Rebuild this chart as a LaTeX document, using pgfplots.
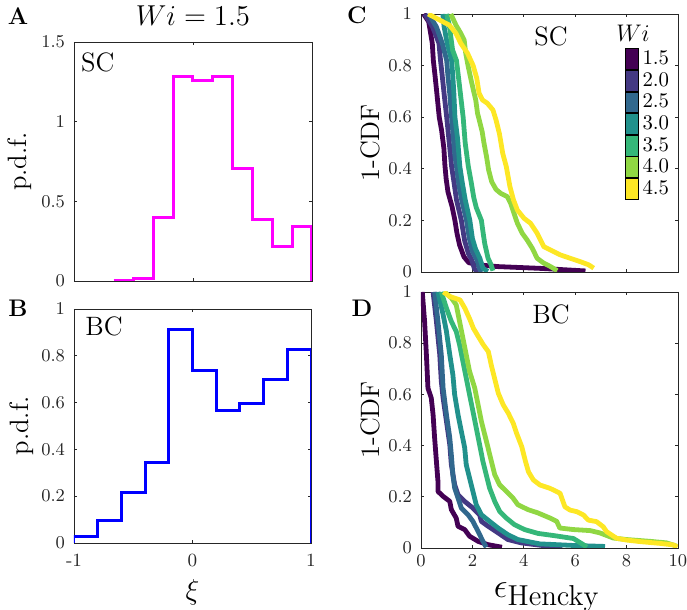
\documentclass[border=0pt]{standalone}
\usepackage{pgfplots}
\pgfplotsset{compat=1.18}
\definecolor{v1}{HTML}{440154}
\definecolor{v2}{HTML}{443983}
\definecolor{v3}{HTML}{31688E}
\definecolor{v4}{HTML}{21918C}
\definecolor{v5}{HTML}{35B779}
\definecolor{v6}{HTML}{90D743}
\definecolor{v7}{HTML}{FDE725}
\definecolor{mag}{RGB}{255,0,255}
\definecolor{blu}{RGB}{0,0,255}
\definecolor{axgray}{HTML}{262626}
\pgfplotsset{
  myax/.style={
    scale only axis, anchor=south west,
    axis line style={axgray, line width=0.4pt},
    tick style={axgray, line width=0.4pt},
    major tick length=1.5pt, tick align=inside,
    tick label style={font=\fontsize{9.3}{11}\selectfont, text=axgray},
    label style={font=\fontsize{13.3}{16}\selectfont},
    yticklabel shift=1pt,
  },
  cdf/.style={line width=2.4pt, line join=round, forget plot},
}
\begin{document}
\begin{tikzpicture}
\useasboundingbox (0,0) rectangle (343.5pt,305pt);

% ---------------- A
\begin{axis}[myax, at={(37pt,164.5pt)}, width=119pt, height=119.5pt,
  xmin=-1, xmax=1, ymin=0, ymax=1.5,
  xtick={-1,0,1}, xticklabels={},
  ytick={0,0.5,1,1.5},
  ylabel={p.d.f.}, ylabel style={at={(axis description cs:-0.227,0.5)}, anchor=center},
  every axis title shift=0pt,
  title={$Wi = 1.5$}, title style={at={(axis description cs:0.5,1.109)}, anchor=center, font=\fontsize{13.3}{16}\selectfont}]
\addplot[const plot, color=mag, line width=1.5pt, line join=miter] coordinates {
(-0.6667,0.004) (-0.5,0.017) (-0.3333,0.396) (-0.1667,1.285) (0,1.258) (0.1667,1.283)
(0.3333,0.704) (0.5,0.385) (0.6667,0.219) (0.8333,0.344) (1,0)};
\node[font=\fontsize{13.3}{16}\selectfont] at (axis description cs:0.10,0.914) {SC};
\end{axis}

% ---------------- B
\begin{axis}[myax, at={(37pt,33.5pt)}, width=118.5pt, height=117pt,
  xmin=-1, xmax=1, ymin=0, ymax=1,
  xtick={-1,0,1}, xticklabels={-1,0,1}, xticklabel shift=2pt,
  ytick={0,0.2,0.4,0.6,0.8,1},
  ylabel={p.d.f.}, ylabel style={at={(axis description cs:-0.22,0.5)}, anchor=center},
  xlabel={$\xi$}, xlabel style={at={(axis description cs:0.5,-0.209)}, anchor=center}]
\addplot[const plot, color=blu, line width=1.5pt, line join=miter] coordinates {
(-1,0) (-1,0.028) (-0.8,0.097) (-0.6,0.214) (-0.4,0.346) (-0.2,0.912) (0,0.736)
(0.2,0.567) (0.4,0.595) (0.6,0.698) (0.8,0.825) (1,0)};
\node[font=\fontsize{13.3}{16}\selectfont] at (axis description cs:0.127,0.924) {BC};
\end{axis}

% ---------------- C
\begin{axis}[myax, at={(210.5pt,169pt)}, width=128.5pt, height=129pt,
  xmin=0, xmax=10, ymin=0, ymax=1,
  xtick={0,2,4,6,8,10}, xticklabels={},
  ytick={0,0.2,0.4,0.6,0.8,1},
  ylabel={1-CDF}, ylabel style={at={(axis description cs:-0.195,0.5)}, anchor=center},
  legend image code/.code={\fill[#1] (0pt,-5.2pt) rectangle (6.6pt,5.2pt);},
  legend cell align=left,
  legend style={at={(rel axis cs:0.792,0.868)}, anchor=north west, draw=none, fill=none,
    inner sep=0pt, row sep=0pt, column sep=0pt,
    font=\fontsize{10.4}{12}\selectfont, nodes={inner ysep=0pt, inner xsep=1.8pt}}]
\addplot[cdf, color=v1] coordinates {(0.1,1.0) (0.3,0.97) (0.44,0.886) (0.48,0.82) (0.55,0.757) (0.62,0.69) (0.71,0.60) (0.80,0.55) (0.89,0.48) (0.93,0.415) (0.98,0.36) (1.05,0.31) (1.21,0.253) (1.32,0.2) (1.40,0.15) (1.50,0.105) (1.67,0.059) (1.86,0.036) (2.3,0.027) (2.97,0.021) (4.65,0.014) (6.4,0.004)};
\addplot[cdf, color=v2] coordinates {(0.15,1.0) (0.45,0.95) (0.70,0.886) (0.76,0.82) (0.83,0.757) (0.9,0.69) (1.0,0.60) (1.07,0.53) (1.19,0.41) (1.28,0.35) (1.38,0.28) (1.57,0.2) (1.7,0.12) (1.85,0.07) (1.96,0.05) (2.09,0.01) (2.25,0.002)};
\addplot[cdf, color=v3] coordinates {(0.3,1.0) (0.6,0.95) (0.83,0.886) (1.0,0.82) (1.05,0.757) (1.12,0.69) (1.19,0.60) (1.25,0.53) (1.32,0.45) (1.38,0.41) (1.47,0.34) (1.58,0.28) (1.77,0.2) (1.88,0.13) (2.0,0.08) (2.16,0.05) (2.29,0.01) (2.4,0.002)};
\addplot[cdf, color=v4] coordinates {(0.85,1.0) (0.9,0.95) (1.02,0.886) (1.19,0.82) (1.24,0.757) (1.28,0.69) (1.32,0.60) (1.42,0.52) (1.51,0.41) (1.6,0.35) (1.72,0.28) (1.90,0.2) (2.0,0.13) (2.12,0.09) (2.29,0.053) (2.41,0.015) (2.6,0.002)};
\addplot[cdf, color=v5] coordinates {(1.0,1.0) (1.10,0.957) (1.16,0.912) (1.23,0.86) (1.38,0.82) (1.44,0.77) (1.50,0.72) (1.57,0.66) (1.64,0.60) (1.72,0.50) (1.84,0.41) (1.95,0.35) (2.05,0.29) (2.15,0.25) (2.35,0.2) (2.42,0.15) (2.48,0.11) (2.61,0.053) (2.72,0.03) (2.8,0.005)};
\addplot[cdf, color=v6] coordinates {(1.16,1.0) (1.36,0.957) (1.55,0.925) (1.68,0.899) (1.74,0.848) (1.83,0.80) (1.95,0.744) (2.05,0.70) (2.13,0.667) (2.20,0.615) (2.30,0.576) (2.38,0.544) (2.45,0.50) (2.55,0.447) (2.63,0.396) (2.75,0.35) (2.92,0.32) (3.10,0.305) (3.36,0.292) (3.49,0.266) (3.62,0.227) (3.75,0.189) (3.94,0.150) (4.13,0.124) (4.33,0.092) (4.52,0.053) (4.78,0.034) (5.04,0.021) (5.30,0.005)};
\addplot[cdf, color=v7] coordinates {(0.28,1.0) (1.10,0.957) (1.36,0.925) (1.55,0.886) (1.81,0.848) (2.03,0.80) (2.17,0.751) (2.26,0.693) (2.39,0.667) (2.58,0.654) (2.80,0.628) (2.92,0.589) (3.05,0.537) (3.18,0.460) (3.32,0.408) (3.46,0.331) (3.60,0.279) (3.75,0.240) (4.01,0.208) (4.26,0.189) (4.52,0.150) (4.78,0.098) (5.04,0.085) (5.43,0.066) (5.81,0.053) (6.20,0.040) (6.52,0.028) (6.72,0.015)};
\addlegendimage{fill=v1}\addlegendentry{1.5}
\addlegendimage{fill=v2}\addlegendentry{2.0}
\addlegendimage{fill=v3}\addlegendentry{2.5}
\addlegendimage{fill=v4}\addlegendentry{3.0}
\addlegendimage{fill=v5}\addlegendentry{3.5}
\addlegendimage{fill=v6}\addlegendentry{4.0}
\addlegendimage{fill=v7}\addlegendentry{4.5}
\node[font=\fontsize{13.3}{16}\selectfont] at (axis description cs:0.506,0.915) {SC};
\node[font=\fontsize{13}{16}\selectfont] at (axis description cs:0.825,0.926) {$Wi$};
\end{axis}

% ---------------- D
\begin{axis}[myax, at={(210.5pt,31pt)}, width=128.5pt, height=128pt,
  xmin=0, xmax=10, ymin=0, ymax=1,
  xtick={0,2,4,6,8,10},
  ytick={0,0.2,0.4,0.6,0.8,1},
  ylabel={1-CDF}, ylabel style={at={(axis description cs:-0.195,0.5)}, anchor=center},
  xlabel={$\epsilon_{\mathrm{Hencky}}$}, xlabel style={at={(axis description cs:0.49,-0.19)}, anchor=center, font=\fontsize{19}{22}\selectfont}]
\addplot[cdf, color=v1] coordinates {(0.05,1.0) (0.14,0.885) (0.21,0.755) (0.27,0.625) (0.40,0.586) (0.47,0.521) (0.53,0.430) (0.60,0.338) (0.66,0.260) (0.66,0.221) (0.86,0.202) (1.12,0.182) (1.18,0.150) (1.37,0.117) (1.44,0.085) (1.70,0.072) (1.89,0.046) (2.22,0.026) (2.61,0.013) (3.15,0.003)};
\addplot[cdf, color=v2] coordinates {(0.47,1.0) (0.60,0.885) (0.73,0.755) (0.79,0.651) (0.86,0.586) (0.99,0.495) (1.12,0.404) (1.18,0.326) (1.31,0.247) (1.44,0.208) (1.70,0.182) (2.02,0.156) (2.28,0.130) (2.35,0.104) (2.61,0.085) (3.00,0.059) (3.38,0.033) (3.90,0.020) (4.94,0.007) (5.5,0.002)};
\addplot[cdf, color=v3] coordinates {(0.53,1.0) (0.66,0.885) (0.79,0.755) (0.86,0.625) (0.99,0.521) (1.12,0.430) (1.18,0.365) (1.24,0.286) (1.31,0.234) (1.44,0.195) (1.57,0.156) (1.83,0.130) (2.02,0.104) (2.22,0.065) (2.41,0.026) (2.54,0.003)};
\addplot[cdf, color=v4] coordinates {(0.66,1.0) (0.86,0.912) (0.99,0.846) (1.12,0.755) (1.24,0.677) (1.31,0.599) (1.44,0.521) (1.57,0.456) (1.70,0.391) (1.76,0.326) (1.89,0.273) (2.02,0.221) (2.15,0.169) (2.35,0.130) (2.67,0.104) (3.00,0.078) (3.38,0.052) (3.77,0.033) (4.42,0.020) (4.63,0.016) (5.9,0.010) (7.16,0.006)};
\addplot[cdf, color=v5] coordinates {(0.79,1.0) (0.99,0.937) (1.18,0.885) (1.37,0.846) (1.50,0.794) (1.63,0.729) (1.76,0.664) (1.89,0.599) (2.02,0.534) (2.15,0.469) (2.28,0.404) (2.41,0.338) (2.54,0.286) (2.67,0.234) (2.87,0.182) (3.06,0.143) (3.32,0.117) (3.64,0.091) (4.03,0.072) (4.55,0.057) (5.2,0.048) (5.93,0.037) (6.32,0.013) (6.45,0.003)};
\addplot[cdf, color=v6] coordinates {(0.92,1.0) (1.18,0.977) (1.37,0.950) (1.50,0.885) (1.63,0.820) (1.76,0.755) (1.89,0.690) (2.09,0.625) (2.22,0.560) (2.35,0.495) (2.48,0.443) (2.61,0.391) (2.74,0.338) (2.87,0.286) (3.06,0.247) (3.32,0.221) (3.58,0.195) (3.77,0.169) (4.16,0.150) (4.55,0.137) (5.02,0.117) (5.28,0.104) (5.40,0.078) (5.93,0.072) (6.58,0.068) (6.96,0.059) (7.48,0.039) (8.00,0.033) (8.91,0.026) (9.56,0.020) (9.95,0.007)};
\addplot[cdf, color=v7] coordinates {(0.87,1.0) (1.13,0.982) (1.52,0.969) (1.71,0.936) (1.91,0.891) (2.04,0.858) (2.23,0.826) (2.43,0.793) (2.62,0.767) (2.75,0.708) (2.88,0.656) (3.01,0.604) (3.20,0.559) (3.40,0.526) (3.59,0.487) (3.72,0.448) (3.92,0.396) (4.05,0.344) (4.18,0.298) (4.37,0.266) (4.63,0.246) (5.02,0.233) (5.41,0.214) (5.60,0.161) (5.80,0.148) (6.06,0.142) (6.32,0.129) (6.51,0.109) (6.83,0.103) (7.09,0.083) (7.22,0.064) (7.61,0.038) (8.00,0.031) (8.52,0.025) (9.30,0.018) (9.82,0.012) (9.98,0.004)};
\node[font=\fontsize{13.3}{16}\selectfont] at (axis description cs:0.506,0.914) {BC};
\end{axis}

% panel letters
\node[font=\bfseries\fontsize{12}{14}\selectfont] at (9pt,297pt) {A};
\node[font=\bfseries\fontsize{12}{14}\selectfont] at (9pt,151pt) {B};
\node[font=\bfseries\fontsize{12}{14}\selectfont] at (178.5pt,297.5pt) {C};
\node[font=\bfseries\fontsize{12}{14}\selectfont] at (181pt,151pt) {D};
\end{tikzpicture}
\end{document}
